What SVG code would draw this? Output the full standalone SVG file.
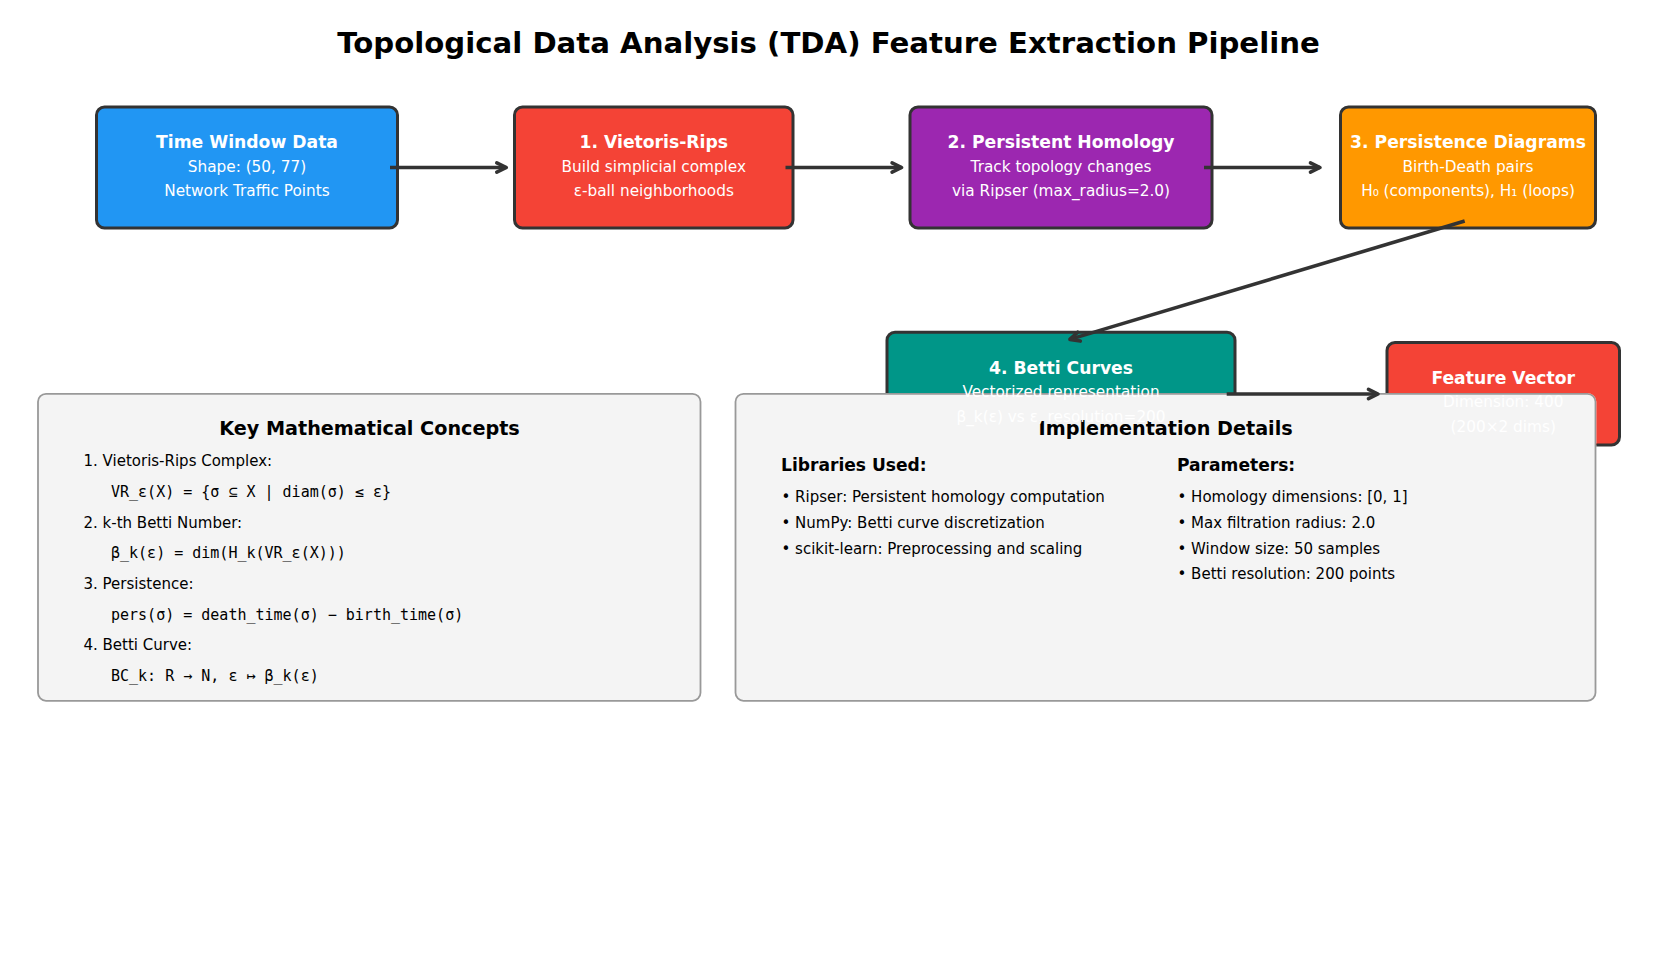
<svg xmlns="http://www.w3.org/2000/svg" width="1657" height="953" viewBox="0 0 1657 953">
<defs>
<style>
.box{stroke:#333;stroke-width:3}
.t{font-family:"DejaVu Sans",sans-serif;fill:#fff;text-anchor:middle}
.bt{font-size:17.2px;font-weight:bold}
.st{font-size:15.3px}
.panel{fill:#f4f4f4;stroke:#999;stroke-width:1.8}
.ph{font-family:"DejaVu Sans",sans-serif;font-weight:bold;font-size:19.2px;fill:#000;text-anchor:middle}
.pt{font-family:"DejaVu Sans",sans-serif;font-size:15px;fill:#000}
.pm{font-family:"DejaVu Sans Mono",monospace;font-size:15px;fill:#000}
.sh{font-family:"DejaVu Sans",sans-serif;font-size:17.1px;font-weight:bold;fill:#000}
.conn{fill:none;stroke:#333;stroke-width:3.6}
</style>
<marker id="ah" markerUnits="userSpaceOnUse" markerWidth="24" markerHeight="24" viewBox="-14 -12 24 24" refX="0" refY="0" orient="auto" overflow="visible">
<path d="M-9.5,-4.6 L0,0 L-9.5,4.6" fill="none" stroke="#333" stroke-width="3.6" stroke-linejoin="round" stroke-linecap="round"/>
</marker>
<clipPath id="outsidePanel">
<path clip-rule="evenodd" d="M0,0H1657V953H0Z M743.5,392.9H1587.5A8.9,8.9 0 0 1 1596.4,401.8V692.8A8.9,8.9 0 0 1 1587.5,701.7H743.5A8.9,8.9 0 0 1 734.6,692.8V401.8A8.9,8.9 0 0 1 743.5,392.9Z"/>
</clipPath>
</defs>
<rect width="1657" height="953" fill="#fff"/>
<text x="828.5" y="52.8" style="font-family:'DejaVu Sans',sans-serif;font-weight:bold;font-size:29.2px;fill:#000;text-anchor:middle">Topological Data Analysis (TDA) Feature Extraction Pipeline</text>

<g id="node-time-window">
<rect class="box" x="96.5" y="107" width="301" height="121" rx="8" fill="#2196F3"/>
<text class="t bt" x="247" y="147.8">Time Window Data</text>
<text class="t st" x="247" y="171.6">Shape: (50, 77)</text>
<text class="t st" x="247" y="196">Network Traffic Points</text>
</g>

<g id="node-vietoris-rips">
<rect class="box" x="514.5" y="107" width="278.5" height="121" rx="8" fill="#F44336"/>
<text class="t bt" x="653.8" y="147.8">1. Vietoris-Rips</text>
<text class="t st" x="653.8" y="171.6">Build simplicial complex</text>
<text class="t st" x="653.8" y="196">ε-ball neighborhoods</text>
</g>

<g id="node-persistent-homology">
<rect class="box" x="910" y="107" width="302" height="121" rx="8" fill="#9C27B0"/>
<text class="t bt" x="1061" y="147.8">2. Persistent Homology</text>
<text class="t st" x="1061" y="171.6">Track topology changes</text>
<text class="t st" x="1061" y="196">via Ripser (max_radius=2.0)</text>
</g>

<g id="node-persistence-diagrams">
<rect class="box" x="1340.5" y="107" width="255" height="121" rx="8" fill="#FF9800"/>
<text class="t bt" x="1468" y="147.8">3. Persistence Diagrams</text>
<text class="t st" x="1468" y="171.6">Birth-Death pairs</text>
<text class="t st" x="1468" y="196">H₀ (components), H₁ (loops)</text>
</g>

<g id="panel-math">
<rect class="panel" x="38" y="393.8" width="662.5" height="307" rx="8"/>
<text class="ph" x="369.5" y="435.3">Key Mathematical Concepts</text>
<text class="pt" x="83.5" y="466.3">1. Vietoris-Rips Complex:</text>
<text class="pm" x="111" y="497">VR_ε(X) = {σ ⊆ X | diam(σ) ≤ ε}</text>
<text class="pt" x="83.5" y="527.6">2. k-th Betti Number:</text>
<text class="pm" x="111" y="558.2">β_k(ε) = dim(H_k(VR_ε(X)))</text>
<text class="pt" x="83.5" y="589">3. Persistence:</text>
<text class="pm" x="111" y="619.6">pers(σ) = death_time(σ) − birth_time(σ)</text>
<text class="pt" x="83.5" y="650.2">4. Betti Curve:</text>
<text class="pm" x="111" y="681.4">BC_k: R → N, ε ↦ β_k(ε)</text>
</g>

<g id="panel-implementation">
<rect class="panel" x="735.5" y="393.8" width="860" height="307" rx="8"/>
<text class="ph" x="1165.6" y="435.3">Implementation Details</text>
<text class="sh" x="781" y="471.2">Libraries Used:</text>
<text class="pt" x="781.5" y="502">• Ripser: Persistent homology computation</text>
<text class="pt" x="781.5" y="527.7">• NumPy: Betti curve discretization</text>
<text class="pt" x="781.5" y="553.7">• scikit-learn: Preprocessing and scaling</text>
<text class="sh" x="1177" y="471.2">Parameters:</text>
<text class="pt" x="1177.5" y="502">• Homology dimensions: [0, 1]</text>
<text class="pt" x="1177.5" y="527.7">• Max filtration radius: 2.0</text>
<text class="pt" x="1177.5" y="553.7">• Window size: 50 samples</text>
<text class="pt" x="1177.5" y="579.4">• Betti resolution: 200 points</text>
</g>

<g id="node-betti-curves">
<rect class="box" x="887" y="332.3" width="348" height="121" rx="8" fill="#009688" clip-path="url(#outsidePanel)"/>
<text class="t bt" x="1061" y="374.4">4. Betti Curves</text>
<text class="t st" x="1061" y="397.1">Vectorized representation</text>
<text class="t st" x="1061" y="422.1">β_k(ε) vs ε, resolution=200</text>
</g>

<g id="node-feature-vector">
<rect class="box" x="1387" y="342.5" width="232.5" height="102.5" rx="8" fill="#F44336" clip-path="url(#outsidePanel)"/>
<text class="t bt" x="1503.2" y="384.4">Feature Vector</text>
<text class="t st" x="1503.2" y="407.1">Dimension: 400</text>
<text class="t st" x="1503.2" y="432">(200×2 dims)</text>
</g>

<g id="connectors">
<path class="conn" d="M390,167.5H506.3" marker-end="url(#ah)"/>
<path class="conn" d="M785.5,167.5H901.6" marker-end="url(#ah)"/>
<path class="conn" d="M1204,167.5H1320" marker-end="url(#ah)"/>
<path class="conn" d="M1464.7,221L1069.9,339.4" marker-end="url(#ah)"/>
<path class="conn" d="M1226.7,394H1378" marker-end="url(#ah)"/>
</g>
</svg>
